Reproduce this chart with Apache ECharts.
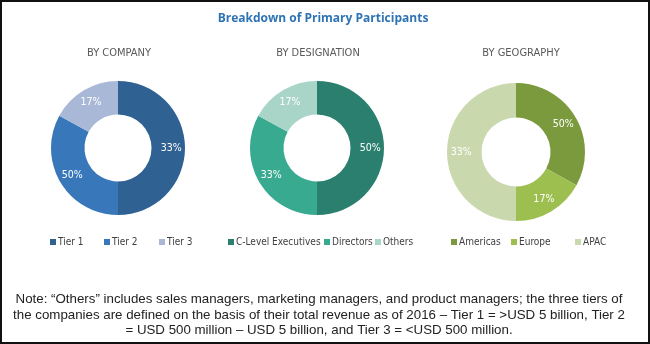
<!DOCTYPE html>
<html>
<head>
<meta charset="utf-8">
<script src="https://cdn.jsdelivr.net/npm/echarts@6/dist/echarts.min.js"></script>
<style>
html,body{margin:0;padding:0;background:#fff;}
#wrap{position:absolute;left:0;top:0;width:650px;height:344px;box-sizing:border-box;border:2px solid #111;pointer-events:none;}
#chart{position:absolute;left:0;top:0;width:650px;height:344px;}
</style>
</head>
<body>
<div id="chart"></div>
<div id="wrap"></div>
<script>
const chartTitle = 'Breakdown of Primary Participants';
const panelTitles = ['BY COMPANY', 'BY DESIGNATION', 'BY GEOGRAPHY'];

const companyCats = ['Tier 1', 'Tier 2', 'Tier 3'];
const companyValues = [50, 33, 17];
const companyLabels = ['33%', '50%', '17%'];

const designationCats = ['C-Level Executives', 'Directors', 'Others'];
const designationValues = [50, 33, 17];
const designationLabels = ['50%', '33%', '17%'];

const geographyCats = ['Americas', 'Europe', 'APAC'];
const geographyValues = [33, 17, 50];
const geographyLabels = ['50%', '17%', '33%'];

const noteText = 'Note: \u201cOthers\u201d includes sales managers, marketing managers, and product managers; the three tiers of\nthe companies are defined on the basis of their total revenue as of 2016 \u2013 Tier 1 = >USD 5 billion, Tier 2\n= USD 500 million \u2013 USD 5 billion, and Tier 3 = <USD 500 million.';

const condFont = "'Liberation Sans Narrow','DejaVu Sans Condensed','Roboto Condensed',sans-serif";

const palettes = [
  ['#2F6193', '#3878BA', '#A8B8D6'],
  ['#2A7F6E', '#38AA90', '#A9D5C8'],
  ['#7B9A3D', '#9DBF50', '#CAD9AD']
];
const panels = [
  {cats: companyCats, vals: companyValues, labs: companyLabels, cx: 118, cy: 148, r: 67, ttl: 114, legendLefts: [45, 99, 154]},
  {cats: designationCats, vals: designationValues, labs: designationLabels, cx: 317, cy: 148, r: 67, ttl: 313, legendLefts: [223, 319, 370]},
  {cats: geographyCats, vals: geographyValues, labs: geographyLabels, cx: 516, cy: 152, r: 69, ttl: 516, legendLefts: [446, 506, 570]}
];

const chart = echarts.init(document.getElementById('chart'), null, {renderer: 'canvas'});

const titles = [{
  text: chartTitle, left: 318, top: 8, textAlign: 'center',
  textStyle: {color: '#2E74B5', fontSize: 12, fontWeight: 'bold', fontFamily: "'Open Sans',sans-serif"}
}];
const legends = [];
const series = [];
panels.forEach((p, i) => {
  titles.push({
    text: panelTitles[i], left: p.ttl, top: 43, textAlign: 'center',
    textStyle: {color: '#595959', fontSize: 11, fontWeight: 'normal', fontFamily: condFont}
  });
  p.cats.forEach((c, k) => {
    legends.push({
      data: [c], left: p.legendLefts[k], top: 232, orient: 'horizontal',
      itemWidth: 6, itemHeight: 6, icon: 'rect',
      textStyle: {color: '#404040', fontSize: 10, fontFamily: condFont, padding: [0, 0, 0, -3]},
      selectedMode: false
    });
  });
  series.push({
    type: 'pie', center: [p.cx, p.cy], radius: [p.r * 0.5, p.r],
    startAngle: 90, clockwise: true, silent: true,
    color: palettes[i],
    label: {
      show: true, position: 'inside', color: '#fff', fontSize: 10.5, fontFamily: condFont,
      formatter: (params) => p.labs[params.dataIndex]
    },
    labelLine: {show: false},
    itemStyle: {borderWidth: 0},
    data: p.cats.map((c, k) => ({name: c, value: p.vals[k]}))
  });
});
titles.push({
  text: noteText, left: 314, top: 287, textAlign: 'center',
  textStyle: {color: '#222', fontSize: 13.3, fontWeight: 'normal', lineHeight: 15.5, fontFamily: "'Liberation Sans',Arial,sans-serif"}
});

chart.setOption({
  animation: false,
  backgroundColor: '#fff',
  title: titles,
  legend: legends,
  series: series
});
</script>
</body>
</html>
